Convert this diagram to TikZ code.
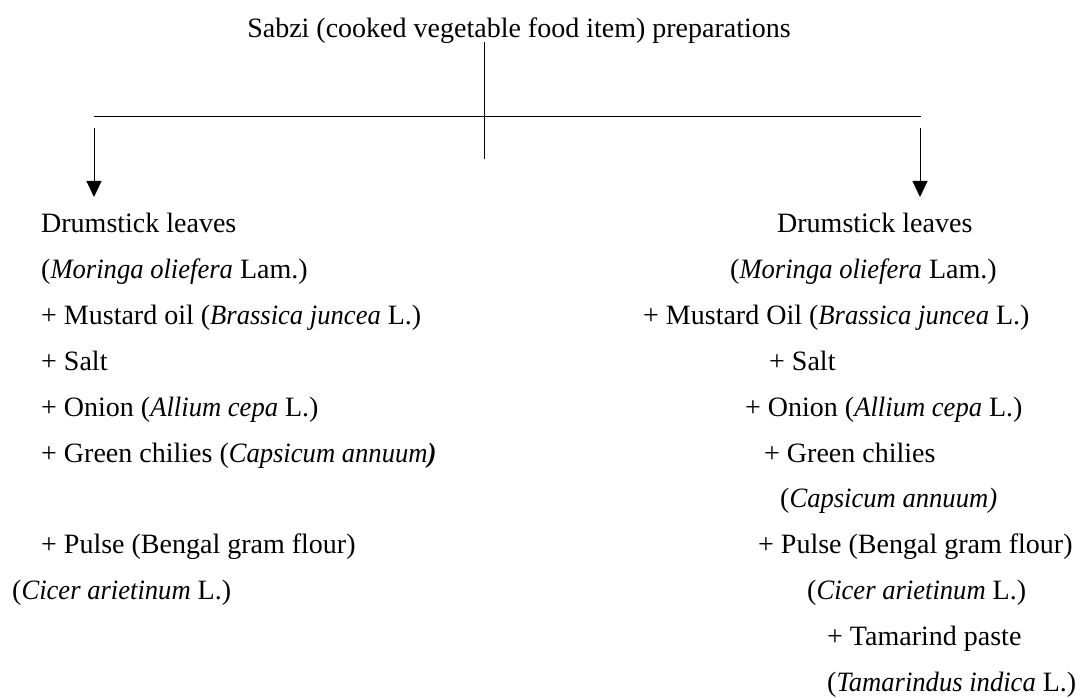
\documentclass[tikz,border=0pt]{standalone}
\usepackage{fontspec}
\setmainfont{Liberation Serif}[ItalicFeatures={FakeStretch=0.95},BoldItalicFeatures={FakeStretch=0.95}]
\usetikzlibrary{arrows.meta}
\begin{document}
\begin{tikzpicture}[x=1pt,y=-1pt,
  txt/.style={anchor=base west,inner sep=0pt,font=\fontsize{28}{30}\selectfont},
  conn/.style={line width=1pt},
  arr/.style={conn,-{Triangle[length=16pt,width=15pt]}}]
\useasboundingbox (0,0) rectangle (1080,698);
\def\ls{45.8}
% title
\node[txt,anchor=base] (title) at (519,38) {Sabzi (cooked vegetable food item) preparations};
\coordinate (vt) at (484,42);
\coordinate (vb) at (484,159);
\coordinate (hl) at (94,116.5);
\coordinate (hr) at (921,116.5);
\coordinate (la) at (94,128);
\coordinate (lt) at (94,197);
\coordinate (ra) at (920,128);
\coordinate (rt) at (920,197);
\draw[conn] (vt) -- (vb);
\draw[conn] (hl) -- (hr);
\draw[arr] (la) -- (lt);
\draw[arr] (ra) -- (rt);
% left column
\node[txt] (l0) at (41,233) {Drumstick leaves};
\node[txt] (l1) at (41,233+1*\ls) {(\textit{Moringa oliefera} Lam.)};
\node[txt] (l2) at (41,233+2*\ls) {+ Mustard oil (\textit{Brassica juncea} L.)};
\node[txt] (l3) at (41,233+3*\ls) {+ Salt};
\node[txt] (l4) at (41,233+4*\ls) {+ Onion (\textit{Allium cepa} L.)};
\node[txt] (l5) at (41,233+5*\ls) {+ Green chilies (\textit{Capsicum annuum\textbf{)}}};
\node[txt] (l7) at (41,233+7*\ls) {+ Pulse (Bengal gram flour)};
\node[txt] (l8) at (12,233+8*\ls) {(\textit{Cicer arietinum} L.)};
% right column
\node[txt] (r0) at (777,233) {Drumstick leaves};
\node[txt] (r1) at (730,233+1*\ls) {(\textit{Moringa oliefera} Lam.)};
\node[txt] (r2) at (643,233+2*\ls) {+ Mustard Oil (\textit{Brassica juncea} L.)};
\node[txt] (r3) at (769,233+3*\ls) {+ Salt};
\node[txt] (r4) at (745,233+4*\ls) {+ Onion (\textit{Allium cepa} L.)};
\node[txt] (r5) at (764,233+5*\ls) {+ Green chilies};
\node[txt] (r6) at (780,233+6*\ls) {(\textit{Capsicum annuum)}};
\node[txt] (r7) at (758,233+7*\ls) {+ Pulse (Bengal gram flour)};
\node[txt] (r8) at (807,233+8*\ls) {(\textit{Cicer arietinum} L.)};
\node[txt] (r9) at (827,233+9*\ls) {+ Tamarind paste};
\node[txt] (r10) at (827,233+10*\ls) {(\textit{Tamarindus indica} L.)};
\end{tikzpicture}
\end{document}
